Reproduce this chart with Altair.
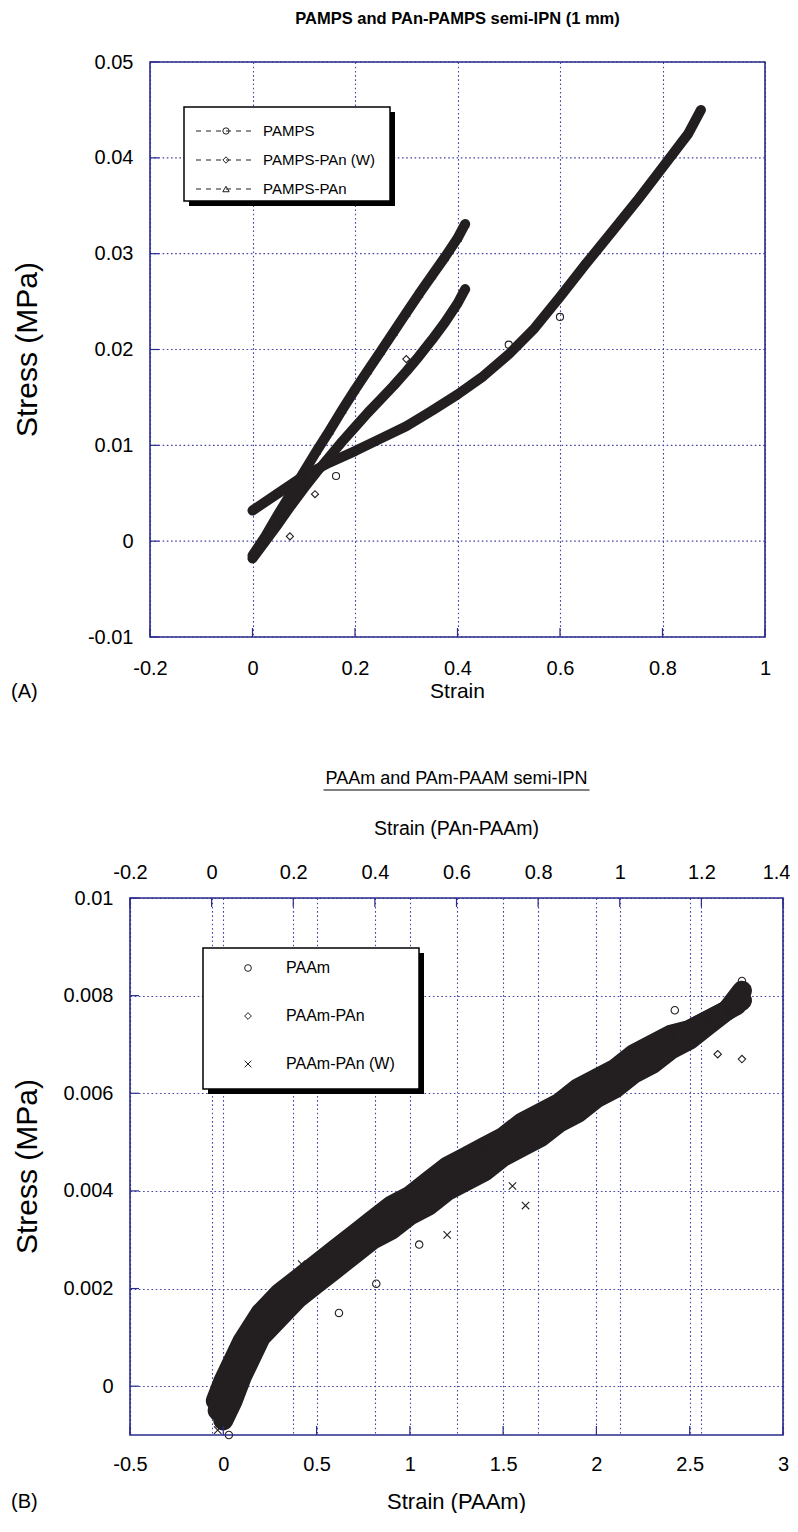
import altair as alt
import pandas as pd

# ---------------- Panel A data ----------------
pamps_strain = [0.0, 0.05, 0.1, 0.15, 0.2, 0.25, 0.3, 0.35, 0.4, 0.45, 0.5, 0.55, 0.6, 0.65, 0.7, 0.75, 0.8, 0.85, 0.875]
pamps_stress = [0.0032, 0.0050, 0.0068, 0.0082, 0.0094, 0.0107, 0.0120, 0.0136, 0.0153, 0.0172, 0.0195, 0.0222, 0.0255, 0.0289, 0.0322, 0.0355, 0.0390, 0.0425, 0.0450]

pan_strain = [0.0, 0.025, 0.05, 0.075, 0.1, 0.125, 0.15, 0.175, 0.2, 0.225, 0.25, 0.275, 0.3, 0.325, 0.35, 0.375, 0.4, 0.415]
pan_stress = [-0.0015, 0.0005, 0.0028, 0.0050, 0.0072, 0.0094, 0.0115, 0.0137, 0.0158, 0.0178, 0.0198, 0.0218, 0.0238, 0.0258, 0.0277, 0.0296, 0.0316, 0.0331]

panw_strain = [0.0, 0.025, 0.05, 0.075, 0.1, 0.125, 0.15, 0.175, 0.2, 0.225, 0.25, 0.275, 0.3, 0.325, 0.35, 0.375, 0.4, 0.415]
panw_stress = [-0.0018, 0.0000, 0.0018, 0.0037, 0.0055, 0.0072, 0.0088, 0.0104, 0.0119, 0.0134, 0.0148, 0.0162, 0.0177, 0.0193, 0.0210, 0.0228, 0.0248, 0.0263]

a_out_circ_strain = [0.163, 0.6, 0.5]
a_out_circ_stress = [0.0068, 0.0234, 0.0205]
a_out_diam_strain = [0.073, 0.122, 0.3]
a_out_diam_stress = [0.0005, 0.0049, 0.0190]

a_series = ["PAMPS", "PAMPS-PAn (W)", "PAMPS-PAn"]
a_xticks = [-0.2, 0, 0.2, 0.4, 0.6, 0.8, 1]
a_yticks = [-0.01, 0, 0.01, 0.02, 0.03, 0.04, 0.05]

# ---------------- Panel B data ----------------
paam_strain = [0.0, 0.05, 0.1, 0.2, 0.3, 0.4, 0.5, 0.6, 0.7, 0.8, 0.9, 1.0, 1.1, 1.2, 1.3, 1.4, 1.5, 1.6, 1.7, 1.8, 1.9, 2.0, 2.1, 2.2, 2.3, 2.4, 2.5, 2.6, 2.7, 2.78]
paam_stress = [-0.0007, -0.0003, 0.0002, 0.0010, 0.0014, 0.0018, 0.0021, 0.0024, 0.0027, 0.0030, 0.0032, 0.0035, 0.0037, 0.0040, 0.0042, 0.0044, 0.0047, 0.0049, 0.0051, 0.0054, 0.0056, 0.0059, 0.0061, 0.0064, 0.0066, 0.0069, 0.0071, 0.0074, 0.0077, 0.0081]

paampan_strain = [-0.04, 0.0, 0.05, 0.1, 0.2, 0.3, 0.4, 0.5, 0.6, 0.7, 0.8, 0.9, 1.0, 1.1, 1.2, 1.3, 1.4, 1.5, 1.6, 1.7, 1.8, 1.9, 2.0, 2.1, 2.2, 2.3, 2.4, 2.5, 2.6, 2.7, 2.78]
paampan_stress = [-0.0003, 0.0001, 0.0005, 0.0009, 0.0015, 0.0019, 0.0022, 0.0025, 0.0028, 0.0031, 0.0034, 0.0037, 0.0039, 0.0042, 0.0045, 0.0047, 0.0049, 0.0051, 0.0054, 0.0056, 0.0058, 0.0061, 0.0063, 0.0065, 0.0068, 0.0070, 0.0072, 0.0073, 0.0075, 0.0077, 0.0079]

paampanw_strain = [-0.03, 0.0, 0.05, 0.1, 0.2, 0.3, 0.4, 0.5, 0.6, 0.7, 0.8, 0.9, 1.0, 1.1, 1.2, 1.3, 1.4, 1.5, 1.6, 1.7, 1.8, 1.9, 2.0, 2.1, 2.2, 2.3, 2.4, 2.5, 2.6, 2.7, 2.75]
paampanw_stress = [-0.0005, -0.0001, 0.0003, 0.0008, 0.0013, 0.0017, 0.0020, 0.0023, 0.0026, 0.0029, 0.0032, 0.0035, 0.0037, 0.0040, 0.0043, 0.0045, 0.0048, 0.0050, 0.0052, 0.0055, 0.0057, 0.0060, 0.0062, 0.0064, 0.0067, 0.0069, 0.0071, 0.0073, 0.0075, 0.0077, 0.0078]

b_out_circ_strain = [0.03, 0.62, 0.82, 1.05, 2.42, 2.78]
b_out_circ_stress = [-0.0010, 0.0015, 0.0021, 0.0029, 0.0077, 0.0083]
b_out_diam_strain = [0.85, 1.32, 2.05, 2.78, 2.65, 0.55]
b_out_diam_stress = [0.0034, 0.0046, 0.0064, 0.0067, 0.0068, 0.0025]
b_out_x_strain = [-0.03, 0.12, 0.42, 1.2, 1.55, 1.62]
b_out_x_stress = [-0.0009, 0.0010, 0.0025, 0.0031, 0.0041, 0.0037]

b_series = ["PAAm", "PAAm-PAn", "PAAm-PAn (W)"]
b_xticks = [-0.5, 0, 0.5, 1, 1.5, 2, 2.5, 3]
b_topticks = [-0.2, 0, 0.2, 0.4, 0.6, 0.8, 1, 1.2, 1.4]
b_ylabels = [0, 0.002, 0.004, 0.006, 0.008, 0.01]

# ---------------- style ----------------
FONT = "Liberation Sans"
INK = "#231f20"
NAVY = "#2b2b8c"
GRID = "#4646a6"
CROSS = "M-1,-1L1,1M-1,1L1,-1"
LABEL_EXPR = "datum.value < 0 ? '-' + format(-datum.value, '~g') : format(datum.value, '~g')"

# layout (pixels): both panels share the same plot origin x; panel A's frame
# starts SHIFT px further right, so its x domain is extended to the left.
SHIFT = 20
WA_FRAME, HA = 615, 575
WA = WA_FRAME + SHIFT
WB, HB = 653, 537
A_X0 = -0.2 - SHIFT * 1.2 / WA_FRAME


def axis(values, orient, pad, grid=True, offset=0, **extra):
    return alt.Axis(values=values, orient=orient, labelExpr=LABEL_EXPR, labelFont=FONT,
                    labelFontSize=20, labelColor="black", labelPadding=pad, ticks=False,
                    domain=False, grid=grid, gridColor=GRID, gridDash=[1.6, 2.6],
                    gridWidth=1.1, title=None, labelOverlap=False, labelFlush=False,
                    offset=offset, **extra)


one = pd.DataFrame({"k": [0]})


def txt(t, x, y, size=20, weight="normal", align="center", angle=0):
    return alt.Chart(one).mark_text(text=t, font=FONT, fontSize=size, fontWeight=weight,
                                    align=align, baseline="middle", angle=angle,
                                    color="black").encode(x=alt.value(x), y=alt.value(y))


def box(x1, x2, y1, y2, fill, stroke=None, sw=0):
    kw = dict(fill=fill)
    if stroke:
        kw.update(stroke=stroke, strokeWidth=sw)
    return alt.Chart(one).mark_rect(**kw).encode(x=alt.value(x1), x2=alt.value(x2),
                                                 y=alt.value(y1), y2=alt.value(y2))


# ================= Panel A =================
xA = alt.X("strain:Q", scale=alt.Scale(domain=[A_X0, 1.0], nice=False, zero=False),
           axis=axis(a_xticks, "bottom", 21))
yA = alt.Y("stress:Q", scale=alt.Scale(domain=[-0.01, 0.05], nice=False, zero=False),
           axis=axis(a_yticks, "left", 17, grid=False, offset=-SHIFT))

dfA = pd.concat([
    pd.DataFrame({"strain": pamps_strain, "stress": pamps_stress, "series": a_series[0]}),
    pd.DataFrame({"strain": panw_strain, "stress": panw_stress, "series": a_series[1]}),
    pd.DataFrame({"strain": pan_strain, "stress": pan_stress, "series": a_series[2]}),
    pd.DataFrame({"strain": a_out_circ_strain, "stress": a_out_circ_stress, "series": a_series[0]}).assign(o=1),
    pd.DataFrame({"strain": a_out_diam_strain, "stress": a_out_diam_stress, "series": a_series[1]}).assign(o=1),
], ignore_index=True)
dfA["o"] = dfA["o"].fillna(0)

shapeA = alt.Shape("series:N", scale=alt.Scale(domain=a_series, range=["circle", "diamond", "triangle-up"]),
                   legend=None)

gridA_y = alt.Chart(pd.DataFrame({"stress": a_yticks})).mark_rule(
    color=GRID, strokeWidth=1.1, strokeDash=[1.6, 2.6]).encode(
    y=yA, x=alt.datum(a_xticks[0]), x2=alt.datum(a_xticks[-1]))
frameA = alt.Chart(one).mark_rect(fillOpacity=0, stroke=NAVY, strokeWidth=1.6).encode(
    x=alt.datum(a_xticks[0]), x2=alt.datum(a_xticks[-1]),
    y=alt.datum(a_yticks[0]), y2=alt.datum(a_yticks[-1]))

linesA = alt.Chart(dfA).transform_filter("datum.o == 0").mark_line(
    color=INK, strokeWidth=10, strokeCap="round", strokeJoin="round").encode(
    x=xA, y=yA, detail="series:N", order="strain:Q")
pointsA = alt.Chart(dfA).mark_point(filled=False, color=INK, size=50, strokeWidth=1.1, opacity=1).encode(
    x=xA, y=yA, shape=shapeA)

ticksA_x = alt.Chart(pd.DataFrame({"strain": a_xticks})).mark_rule(color=NAVY, strokeWidth=1.2).encode(
    x=xA, y=alt.value(HA), y2=alt.value(HA - 9))
ticksA_y = alt.Chart(pd.DataFrame({"stress": a_yticks})).mark_rule(color=NAVY, strokeWidth=1.2).encode(
    y=yA, x=alt.value(SHIFT), x2=alt.value(SHIFT + 9))

# legend A
LX = SHIFT
lgA = [
    box(LX + 39, LX + 245, 50, 144, "black"),
    box(LX + 34, LX + 240, 45, 139, "white", "black", 1.5),
]
for i, (name, shp) in enumerate(zip(a_series, ["circle", "diamond", "triangle-up"])):
    yy = 69 + i * 29
    lgA.append(alt.Chart(one).mark_rule(color=INK, strokeWidth=1, strokeDash=[5, 5]).encode(
        x=alt.value(LX + 46), x2=alt.value(LX + 106), y=alt.value(yy)))
    lgA.append(alt.Chart(one).mark_point(shape=shp, filled=False, color=INK, size=40, strokeWidth=1, opacity=1).encode(
        x=alt.value(LX + 76), y=alt.value(yy)))
    lgA.append(txt(name, LX + 113, yy, size=15, align="left"))

textsA = [
    txt("PAMPS and PAn-PAMPS semi-IPN (1 mm)", SHIFT + WA_FRAME / 2, -43, size=16.5, weight="bold"),
    txt("Stress (MPa)", -102, HA / 2, size=30, angle=270),
    txt("Strain", SHIFT + WA_FRAME / 2, 630, size=21),
    txt("(A)", -119, 630, align="left"),
]

chartA = alt.layer(gridA_y, linesA, pointsA, ticksA_x, ticksA_y, frameA, *lgA, *textsA).properties(
    width=WA, height=HA)

# ================= Panel B =================
xB = alt.X("strain:Q", scale=alt.Scale(domain=[-0.5, 3.0], nice=False, zero=False),
           axis=axis(b_xticks, "bottom", 19))
yB = alt.Y("stress:Q", scale=alt.Scale(domain=[-0.001, 0.01], nice=False, zero=False),
           axis=axis(b_ylabels, "left", 17))
xTop = alt.X("top:Q", scale=alt.Scale(domain=[-0.2, 1.4], nice=False, zero=False),
             axis=axis(b_topticks, "top", 16,
                       labelAlign=alt.condition("datum.value > 1.3", alt.value("right"), alt.value("center")),
                       labelOffset=alt.condition("datum.value > 1.3", alt.value(7), alt.value(0))))

dfB = pd.concat([
    pd.DataFrame({"strain": paam_strain, "stress": paam_stress, "series": b_series[0]}),
    pd.DataFrame({"strain": paampan_strain, "stress": paampan_stress, "series": b_series[1]}),
    pd.DataFrame({"strain": paampanw_strain, "stress": paampanw_stress, "series": b_series[2]}),
    pd.DataFrame({"strain": b_out_circ_strain, "stress": b_out_circ_stress, "series": b_series[0]}).assign(o=1),
    pd.DataFrame({"strain": b_out_diam_strain, "stress": b_out_diam_stress, "series": b_series[1]}).assign(o=1),
    pd.DataFrame({"strain": b_out_x_strain, "stress": b_out_x_stress, "series": b_series[2]}).assign(o=1),
], ignore_index=True)
dfB["o"] = dfB["o"].fillna(0)

shapeB = alt.Shape("series:N", scale=alt.Scale(domain=b_series, range=["circle", "diamond", CROSS]),
                   legend=None)

frameB = alt.Chart(one).mark_rect(fillOpacity=0, stroke=NAVY, strokeWidth=1.6).encode(
    x=alt.datum(b_xticks[0]), x2=alt.datum(b_xticks[-1]),
    y=alt.datum(-0.001), y2=alt.datum(b_ylabels[-1]))

linesB = alt.Chart(dfB).transform_filter("datum.o == 0").mark_line(
    color=INK, strokeWidth=20, strokeCap="round", strokeJoin="round").encode(
    x=xB, y=yB, detail="series:N", order="strain:Q")
pointsB = alt.Chart(dfB).mark_point(filled=False, color=INK, size=55, strokeWidth=1.1, opacity=1).encode(
    x=xB, y=yB, shape=shapeB)

ticksB_x = alt.Chart(pd.DataFrame({"strain": b_xticks})).mark_rule(color=NAVY, strokeWidth=1.2).encode(
    x=xB, y=alt.value(HB), y2=alt.value(HB - 9))
ticksB_y = alt.Chart(pd.DataFrame({"stress": b_ylabels})).mark_rule(color=NAVY, strokeWidth=1.2).encode(
    y=yB, x=alt.value(0), x2=alt.value(9))

# legend B
lgB = [
    box(78, 294, 55, 196, "black"),
    box(73, 289, 50, 191, "white", "black", 1.5),
]
for i, (name, shp) in enumerate(zip(b_series, ["circle", "diamond", CROSS])):
    yy = 70 + i * 48
    lgB.append(alt.Chart(one).mark_point(shape=shp, filled=False, color=INK, size=45, strokeWidth=1, opacity=1).encode(
        x=alt.value(118), y=alt.value(yy)))
    lgB.append(txt(name, 156, yy, size=16, align="left"))

title_b = "PAAm and PAm-PAAM semi-IPN"
textsB = [
    txt(title_b, WB / 2, -119, size=18),
    alt.Chart(one).mark_rule(color="black", strokeWidth=1.2).encode(
        x=alt.value(WB / 2 - 133), x2=alt.value(WB / 2 + 133), y=alt.value(-108)),
    txt("Strain (PAn-PAAm)", WB / 2, -69, size=19.5),
    txt("Stress (MPa)", -102, HB / 2, size=30, angle=270),
    txt("Strain (PAAm)", WB / 2, 604, size=22),
    txt("(B)", -119, 604, align="left"),
]

innerB = alt.layer(linesB, pointsB, ticksB_x, ticksB_y, frameB, *lgB, *textsB)
topB = alt.Chart(pd.DataFrame({"top": b_topticks})).mark_rule(color=NAVY, strokeWidth=1.2).encode(
    x=xTop, y=alt.value(0), y2=alt.value(9))

chartB = alt.layer(innerB, topB).resolve_scale(x="independent").properties(width=WB, height=HB)

chart = alt.vconcat(chartA, chartB, spacing=68).resolve_scale(shape="independent").configure_view(
    stroke=None).properties(
    padding={"left": 3, "top": 3, "right": 0, "bottom": 0},
    background="white")

chart.save("out.html", embed_options={"renderer": "svg", "actions": False})
